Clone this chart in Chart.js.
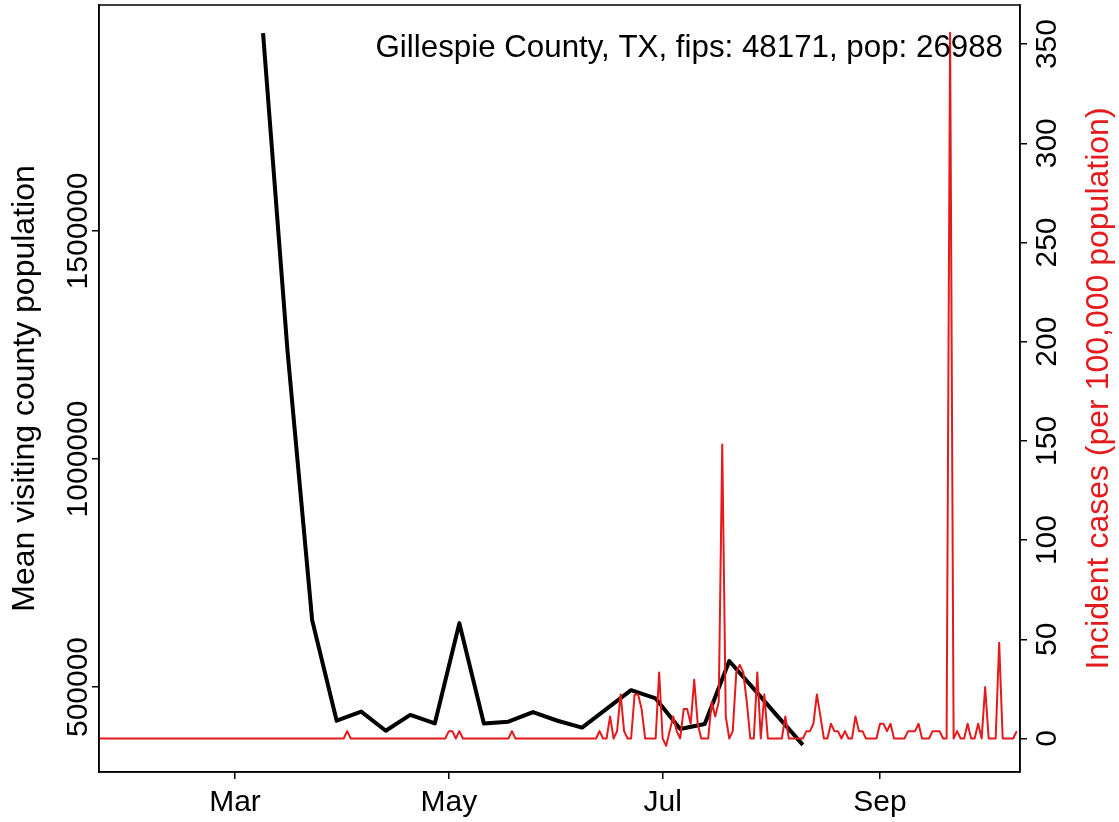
<!DOCTYPE html>
<html>
<head>
<meta charset="utf-8">
<script src="https://cdn.jsdelivr.net/npm/chart.js@4.4.1/dist/chart.umd.min.js"></script>
<style>
  html, body { margin: 0; padding: 0; background: #fff; }
  canvas { display: block; }
</style>
</head>
<body>
<canvas id="countyChart" width="1119" height="822"></canvas>
<script>
// day numbers count from Jan 1 2020 = 0
var monthTicks = [60, 121, 182, 244];
var monthLabels = ['Mar', 'May', 'Jul', 'Sep'];
var leftTicks = [500000, 1000000, 1500000];
var rightTicks = [0, 50, 100, 150, 200, 250, 300, 350];

var chartTitle = 'Gillespie County, TX, fips: 48171, pop: 26988';
var leftTitle = 'Mean visiting county population';
var rightTitle = 'Incident cases (per 100,000 population)';

// weekly mean visiting population
var visitDays = [68, 75, 82, 89, 96, 103, 110, 117, 124, 131, 138, 145,
    152, 159, 166, 173, 180, 187, 194, 201, 208, 215, 222];
var visitValues = [1934000, 1235000, 647000, 426000, 446000, 404000, 439000,
    420000, 640000, 420000, 424000, 445000, 426000, 411000, 452000, 493000,
    475000, 408000, 419000, 557000, 496000, 434000, 373000];

// daily incident cases per 100k, first value is day 21 (Jan 22)
var caseStartDay = 21;
var incidentCases = [
    0, 0, 0, 0, 0, 0, 0, 0, 0, 0,           // 21-30
    0, 0, 0, 0, 0, 0, 0, 0, 0, 0,           // 31-40
    0, 0, 0, 0, 0, 0, 0, 0, 0, 0,           // 41-50
    0, 0, 0, 0, 0, 0, 0, 0, 0, 0,           // 51-60
    0, 0, 0, 0, 0, 0, 0, 0, 0, 0,           // 61-70
    0, 0, 0, 0, 0, 0, 0, 0, 0, 0,           // 71-80
    0, 0, 0, 0, 0, 0, 0, 0, 0, 0,           // 81-90
    0, 3.7, 0, 0, 0, 0, 0, 0, 0, 0,         // 91-100
    0, 0, 0, 0, 0, 0, 0, 0, 0, 0,           // 101-110
    0, 0, 0, 0, 0, 0, 0, 0, 0, 0,           // 111-120
    3.7, 3.7, 0, 3.7, 0, 0, 0, 0, 0, 0,     // 121-130
    0, 0, 0, 0, 0, 0, 0, 0, 3.7, 0,         // 131-140
    0, 0, 0, 0, 0, 0, 0, 0, 0, 0,           // 141-150
    0, 0, 0, 0, 0, 0, 0, 0, 0, 0,           // 151-160
    0, 0, 0, 3.7, 0, 0, 11.1, 0, 3.7, 22.2, // 161-170
    3.7, 0, 0, 22.2, 22.2, 14.8, 0, 0, 0, 0, // 171-180
    33.3, 0, -3.7, 3.7, 11.1, 3.7, 0, 14.8, 14.8, 7.4, // 181-190
    29.6, 7.4, 0, 0, 0, 18.5, 11.1, 18.5, 148.2, 11.1, // 191-200
    0, 3.7, 33.3, 37.1, 33.3, 18.5, 0, 0, 33.3, 0,    // 201-210
    22.2, 0, 0, 0, 0, 0, 11.1, 0, 0, 0,     // 211-220
    0, 0, 3.7, 3.7, 7.4, 22.2, 11.1, 0, 0, 7.4, // 221-230
    3.7, 3.7, 0, 3.7, 0, 0, 11.1, 3.7, 3.7, 0,  // 231-240
    0, 0, 0, 7.4, 7.4, 3.7, 7.4, 0, 0, 0,   // 241-250
    0, 3.7, 3.7, 3.7, 7.4, 0, 0, 0, 3.7, 3.7, // 251-260
    3.7, 0, 0, 355.7, 0, 3.7, 0, 0, 7.4, 0, // 261-270
    0, 7.4, 0, 25.9, 0, 0, 0, 48.2, 0, 0,   // 271-280
    0, 0, 3.7                               // 281-283
];

var black = '#000000';
var red = '#e41a1c';
var fontFamily = '"Liberation Sans", Arial, Helvetica, sans-serif';

var visitPoints = visitDays.map(function (d, i) { return { x: d, y: visitValues[i] }; });
var casePoints = incidentCases.map(function (v, i) { return { x: caseStartDay + i, y: v }; });

function fixTicks(list) {
    return function (axis) {
        axis.ticks = list.map(function (v) { return { value: v }; });
    };
}

function axisGrid() {
    return { display: true, drawOnChartArea: false, drawTicks: true, tickLength: 7, color: black, lineWidth: 1.5 };
}

function rotatedText(ctx, text, x, y) {
    ctx.save();
    ctx.translate(x, y);
    ctx.rotate(-Math.PI / 2);
    ctx.fillText(text, 0, 0);
    ctx.restore();
}

var labelsPlugin = {
    id: 'rStyleLabels',
    afterDraw: function (chart) {
        var ctx = chart.ctx;
        var area = chart.chartArea;
        var sx = chart.scales.x, sy = chart.scales.y, sy2 = chart.scales.y2;
        ctx.save();
        ctx.strokeStyle = black;
        ctx.lineWidth = 1.5;
        ctx.strokeRect(area.left, area.top, area.right - area.left, area.bottom - area.top);

        ctx.fillStyle = black;
        ctx.font = '30px ' + fontFamily;
        ctx.textAlign = 'center';
        ctx.textBaseline = 'alphabetic';
        monthTicks.forEach(function (d, i) {
            ctx.fillText(monthLabels[i], sx.getPixelForValue(d), 811);
        });
        leftTicks.forEach(function (v) {
            rotatedText(ctx, String(v), 87, sy.getPixelForValue(v));
        });
        rightTicks.forEach(function (v) {
            rotatedText(ctx, String(v), 1056, sy2.getPixelForValue(v));
        });

        ctx.font = '32px ' + fontFamily;
        rotatedText(ctx, leftTitle, 34, (area.top + area.bottom) / 2);
        ctx.fillStyle = red;
        rotatedText(ctx, rightTitle, 1108, (area.top + area.bottom) / 2);

        ctx.fillStyle = black;
        ctx.font = '31.3px ' + fontFamily;
        ctx.textAlign = 'right';
        ctx.fillText(chartTitle, 1003, 57);
        ctx.restore();
    }
};

var ctx = document.getElementById('countyChart').getContext('2d');
var chartInstance = new Chart(ctx, {
    type: 'line',
    data: {
        datasets: [
            {
                label: 'Incident cases',
                data: casePoints,
                yAxisID: 'y2',
                borderColor: red,
                borderWidth: 2,
                pointRadius: 0,
                tension: 0,
                borderJoinStyle: 'round',
                order: 0
            },
            {
                label: 'Mean visiting county population',
                data: visitPoints,
                yAxisID: 'y',
                borderColor: black,
                borderWidth: 4,
                pointRadius: 0,
                tension: 0,
                borderJoinStyle: 'round',
                borderCapStyle: 'butt',
                order: 1
            }
        ]
    },
    options: {
        responsive: false,
        animation: false,
        devicePixelRatio: 1,
        layout: { padding: { top: 5, left: 0, right: 0, bottom: 0 } },
        plugins: {
            legend: { display: false },
            tooltip: { enabled: false }
        },
        scales: {
            x: {
                type: 'linear',
                position: 'bottom',
                min: 21.2,
                max: 283.94,
                afterBuildTicks: fixTicks(monthTicks),
                afterFit: function (scale) { scale.height = 50; },
                ticks: { display: false },
                grid: axisGrid(),
                border: { display: true, color: black, width: 1.5 }
            },
            y: {
                type: 'linear',
                position: 'left',
                min: 313600,
                max: 1995600,
                afterBuildTicks: fixTicks(leftTicks),
                afterFit: function (scale) { scale.width = 99; },
                ticks: { display: false },
                grid: axisGrid(),
                border: { display: true, color: black, width: 1.5 }
            },
            y2: {
                type: 'linear',
                position: 'right',
                min: -16.9,
                max: 369.7,
                afterBuildTicks: fixTicks(rightTicks),
                afterFit: function (scale) { scale.width = 99; },
                ticks: { display: false },
                grid: axisGrid(),
                border: { display: true, color: black, width: 1.5 }
            }
        }
    },
    plugins: [labelsPlugin]
});
</script>
</body>
</html>
